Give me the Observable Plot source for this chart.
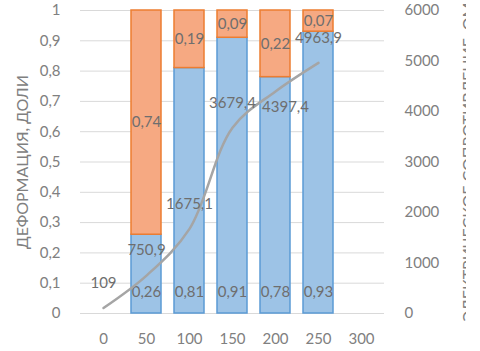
<!DOCTYPE html>
<html><head><meta charset="utf-8">
<script src="https://cdn.jsdelivr.net/npm/d3@7"></script>
<script src="https://cdn.jsdelivr.net/npm/@observablehq/plot@0.6"></script>
<style>
html,body{margin:0;padding:0;background:#fff;overflow:hidden}
#chart{width:466px;overflow:hidden}
#chart svg{max-width:none !important;width:480px;display:block}
svg{font-family:Lato, "Open Sans", sans-serif}
</style>
</head><body>
<div id="chart"></div>
<script>
const categories = ["0","50","100","150","200","250","300"];
const barCats = ["50","100","150","200","250"];
const blueShare = [0.26,0.81,0.91,0.78,0.93];
const orangeShare = [0.74,0.19,0.09,0.22,0.07];
const lineCats = ["0","50","100","150","200","250"];
const resistance = [109,750.9,1675.1,3679.4,4397.4,4963.9];
const leftTicks = [0,0.1,0.2,0.3,0.4,0.5,0.6,0.7,0.8,0.9,1];
const rightTicks = [0,1000,2000,3000,4000,5000,6000];
const leftTitle = "ДЕФОРМАЦИЯ, ДОЛИ";
const rightTitle = "ЭЛЕКТРИЧЕСКОЕ СОПРОТИВЛЕНИЕ, ОМ";

const R_MAX = 6000;
const comma = v => String(v).replace(".", ",");
const bars = barCats.map((c,i)=>({c, b: blueShare[i], o: orangeShare[i]}));
const line = lineCats.map((c,i)=>({c, r: resistance[i]}));
const moved = "4397.4";

const chart = Plot.plot({
  width: 480, height: 351,
  marginLeft: 80, marginRight: 96, marginTop: 10, marginBottom: 38,
  style: {fontSize: "15px", color: "#808080", background: "#fff", overflow: "hidden"},
  x: {domain: categories, paddingInner: 0.31, paddingOuter: 0.155, axis: null},
  y: {domain: [0,1], axis: null},
  marks: [
    Plot.ruleY(leftTicks, {stroke: "#d9d9d9", strokeWidth: 1}),
    Plot.axisX({tickSize: 0, tickPadding: 20, fill: "#808080", fontSize: 15, label: null}),
    Plot.axisY(leftTicks, {anchor: "left", tickSize: 0, tickPadding: 20, fill: "#808080", fontSize: 15, label: null,
      tickFormat: d => comma(+d.toFixed(1))}),
    Plot.axisY(rightTicks.map(v=>v/R_MAX), {anchor: "right", tickSize: 0, tickPadding: 20, fill: "#808080", fontSize: 15, label: null,
      tickFormat: d => String(Math.round(d*R_MAX))}),
    Plot.barY(bars, {x: "c", y1: 0, y2: "b", fill: "#9dc3e6", stroke: "#5b9bd5", strokeWidth: 1.5, inset: 0}),
    Plot.barY(bars, {x: "c", y1: "b", y2: d => d.b + d.o, fill: "#f6a982", stroke: "#ed7d31", strokeWidth: 1.5, inset: 0}),
    Plot.text(bars, {x: "c", y: 0, text: d => comma(d.b), dy: -21, fill: "#6e6e6e", fontSize: 15}),
    Plot.text(bars, {x: "c", y: d => d.b + d.o/2, text: d => comma(d.o), fill: "#6e6e6e", fontSize: 15}),
    Plot.line(line, {x: "c", y: d => d.r/R_MAX, stroke: "#a5a5a5", strokeWidth: 2.5, curve: "catmull-rom"}),
    Plot.text(line.filter(d => String(d.r) !== moved), {x: "c", y: d => d.r/R_MAX, text: d => comma(d.r), dy: -25, fill: "#6e6e6e", fontSize: 15}),
    Plot.text(line.filter(d => String(d.r) === moved), {x: "c", y: d => d.r/R_MAX, text: d => comma(d.r), dx: 10, dy: 16, fill: "#6e6e6e", fontSize: 15}),
    Plot.text([leftTitle], {frameAnchor: "left", text: d => d, dx: -58, rotate: -90, textAnchor: "middle", fill: "#808080", fontSize: 16}),
    Plot.text([rightTitle], {frameAnchor: "right", text: d => d, dx: 84, rotate: -90, textAnchor: "middle", fill: "#808080", fontSize: 16})
  ]
});
document.getElementById("chart").appendChild(chart);
</script>
</body></html>
